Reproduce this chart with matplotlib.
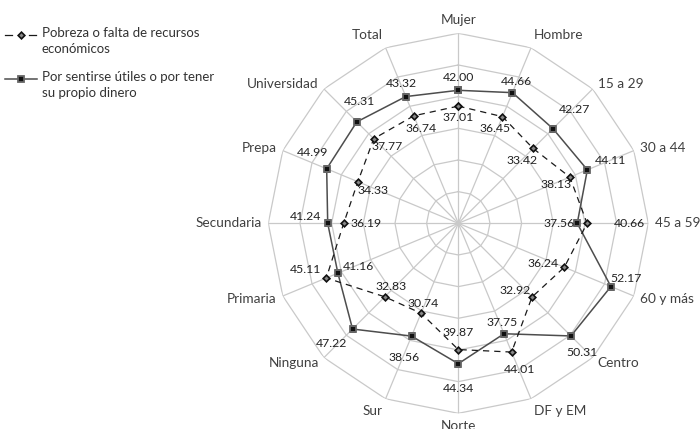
import numpy as np
import matplotlib
matplotlib.use("Agg")
import matplotlib.pyplot as plt

plt.rcParams['font.family'] = ['Lato', 'DejaVu Sans']

categories = ["Mujer", "Hombre", "15 a 29", "30 a 44", "45 a 59", "60 y más",
              "Centro", "DF y EM", "Norte", "Sur", "Ninguna", "Primaria",
              "Secundaria", "Prepa", "Universidad", "Total"]
pobreza = [37.01, 36.45, 33.42, 38.13, 40.66, 36.24, 32.92, 44.01,
           39.87, 30.74, 32.83, 45.11, 36.19, 34.33, 37.77, 36.74]
utiles = [42.00, 44.66, 42.27, 44.11, 37.56, 52.17, 50.31, 37.75,
          44.34, 38.56, 47.22, 41.16, 41.24, 44.99, 45.31, 43.32]
series_names = ["Pobreza o falta de recursos\neconómicos",
                "Por sentirse útiles o por tener\nsu propio dinero"]
r_max = 60
r_ticks = [10, 20, 30, 40, 50, 60]

# label offsets in pixels (dx, dy) for each value label
off_utiles = [(0, 13), (4, 11), (22, 19), (23, 9), (-18, 0), (15, 8),
              (11, -17), (-2, 11), (0, -25), (-8, -21), (-21, -14), (21, 7),
              (-22, 7), (-14, 16), (3, 20), (-4, 13)]
off_pobreza = [(0, -11), (-7, -12), (-11, -12), (-14, -7), (42, 0), (-21, 4),
               (-17, 7), (8, -17), (0, 17), (2, 10), (6, 10), (-21, 8),
               (22, 0), (15, -9), (13, -8), (7, -13)]

W, H = 700, 429
fig = plt.figure(figsize=(W / 100, H / 100), dpi=100)
cx, cy, R = 458.3, 223.3, 190
ax = fig.add_axes([(cx - R) / W, (H - cy - R) / H, 2 * R / W, 2 * R / H],
                  projection='polar')
ax.set_theta_zero_location('N')
ax.set_theta_direction(-1)
ax.set_ylim(0, r_max)
ax.grid(False)
ax.spines['polar'].set_visible(False)
ax.set_xticks([])
ax.set_yticks([])
ax.patch.set_alpha(0)

n = len(categories)
theta = np.arange(n) * 2 * np.pi / n
theta_c = np.append(theta, theta[0])

grid_col = '#c9c9c9'
for r in r_ticks:
    ax.plot(theta_c, [r] * (n + 1), color=grid_col, lw=0.9, zorder=1)
for t in theta:
    ax.plot([t, t], [0, r_max], color=grid_col, lw=0.9, zorder=1)

sq_style = dict(marker='s', markersize=4.6, markerfacecolor='#111111',
                markeredgecolor='#666666', markeredgewidth=1.3)
dm_style = dict(marker='D', markersize=3.4, markerfacecolor='#888888',
                markeredgecolor='#111111', markeredgewidth=1.2)

u_c = np.append(utiles, utiles[0])
p_c = np.append(pobreza, pobreza[0])
ax.plot(theta_c, u_c, color='#4d4d4d', lw=1.1, zorder=3, **sq_style)
ax.plot(theta_c, p_c, color='#1a1a1a', lw=0.9, ls=(0, (5, 4)), zorder=4,
        **dm_style)

for i in range(n):
    for vals, offs in ((utiles, off_utiles), (pobreza, off_pobreza)):
        ax.annotate(f"{vals[i]:.2f}", xy=(theta[i], vals[i]),
                    xytext=offs[i], textcoords='offset pixels',
                    ha='center', va='center', fontsize=8.8,
                    color='#222222', zorder=5)

# category labels just outside the outer ring
pad = 7
for i, name in enumerate(categories):
    dx, dy = np.sin(theta[i]), np.cos(theta[i])
    ha = 'left' if dx > 0.1 else ('right' if dx < -0.1 else 'center')
    va = 'bottom' if dy > 0.75 else ('top' if dy < -0.75 else 'center')
    ax.annotate(name, xy=(theta[i], r_max), xytext=(pad * dx, pad * dy),
                textcoords='offset pixels', ha=ha, va=va, fontsize=9.8,
                color='#404040', annotation_clip=False)

# legend drawn in a pixel-space overlay
lg = fig.add_axes([0, 0, 1, 1])
lg.set_xlim(0, W)
lg.set_ylim(H, 0)
lg.axis('off')
lg.patch.set_alpha(0)
lg.plot([5, 12], [35, 35], color='#1a1a1a', lw=0.9)
lg.plot([29, 36], [35, 35], color='#1a1a1a', lw=0.9)
lg.plot([21], [35], **dm_style)
lg.plot([5, 37], [79, 79], color='#4d4d4d', lw=1.1)
lg.plot([21], [79], **sq_style)
lg.text(42, 27, series_names[0], fontsize=9.5, color='#333333',
        va='top', ha='left', linespacing=1.4)
lg.text(42, 71, series_names[1], fontsize=9.5, color='#333333',
        va='top', ha='left', linespacing=1.4)

fig.savefig('out.png', dpi=100)
